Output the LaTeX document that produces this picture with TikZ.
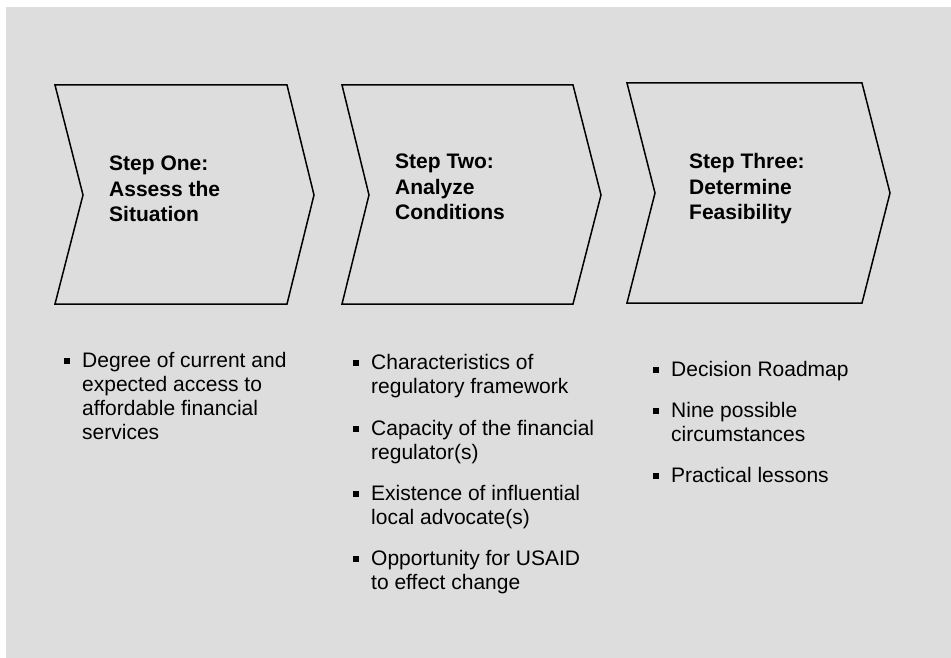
\documentclass[tikz,border=0pt]{standalone}
\usepackage{fontspec}
\setmainfont{Liberation Sans}
\definecolor{bggray}{HTML}{DDDDDD}
\begin{document}
\begin{tikzpicture}[x=1pt,y=-1pt,
  chev/.style={draw=black,line width=1.5pt,line join=miter},
  steptitle/.style={anchor=base west,inner sep=0pt,font=\fontsize{21}{25.5}\selectfont\bfseries},
  itemtext/.style={anchor=base west,inner sep=0pt,font=\fontsize{21}{24.3}\selectfont},
  bul/.style={fill=black,minimum size=5.5pt,inner sep=0pt,outer sep=0pt}]
\useasboundingbox (0,0) rectangle (951,658);
\fill[white] (0,0) rectangle (951,658);
\fill[bggray] (6,7) rectangle (951,658);
% chevrons
\draw[chev] (55,85) -- (287,85) -- (314,195) -- (287,304) -- (55,304) -- (83,195) -- cycle;
\draw[chev] (342,85) -- (573,85) -- (601,195) -- (573,304) -- (342,304) -- (369,195) -- cycle;
\draw[chev] (627,83) -- (862,83) -- (890,193) -- (862,303) -- (627,303) -- (655,193) -- cycle;
% titles
\node[steptitle] (s1) at (109,171) {\parbox[t]{200pt}{Step One:\\Assess the\\Situation}};
\node[steptitle] (s2) at (395,169) {\parbox[t]{200pt}{Step Two:\\Analyze\\Conditions}};
\node[steptitle] (s3) at (689,169) {\parbox[t]{200pt}{Step Three:\\Determine\\Feasibility}};
% column 1
\node[bul] (b1a) at (66.8,361) {};
\node[itemtext] (t1a) at (82,367) {\parbox[t]{240pt}{Degree of current and\\expected access to\\affordable financial\\services}};
% column 2
\node[bul] (b2a) at (356,363) {};
\node[itemtext] (t2a) at (371,369) {\parbox[t]{260pt}{Characteristics of\\regulatory framework}};
\node[bul] (b2b) at (356,429) {};
\node[itemtext] (t2b) at (371,435) {\parbox[t]{260pt}{Capacity of the financial\\regulator(s)}};
\node[bul] (b2c) at (356,494) {};
\node[itemtext] (t2c) at (371,500) {\parbox[t]{260pt}{Existence of influential\\local advocate(s)}};
\node[bul] (b2d) at (356,559) {};
\node[itemtext] (t2d) at (371,565) {\parbox[t]{260pt}{Opportunity for USAID\\to effect change}};
% column 3
\node[bul] (b3a) at (656,370) {};
\node[itemtext] (t3a) at (671,376) {\parbox[t]{240pt}{Decision Roadmap}};
\node[bul] (b3b) at (656,411) {};
\node[itemtext] (t3b) at (671,417) {\parbox[t]{240pt}{Nine possible\\circumstances}};
\node[bul] (b3c) at (656,476) {};
\node[itemtext] (t3c) at (671,482) {\parbox[t]{240pt}{Practical lessons}};
\end{tikzpicture}
\end{document}
